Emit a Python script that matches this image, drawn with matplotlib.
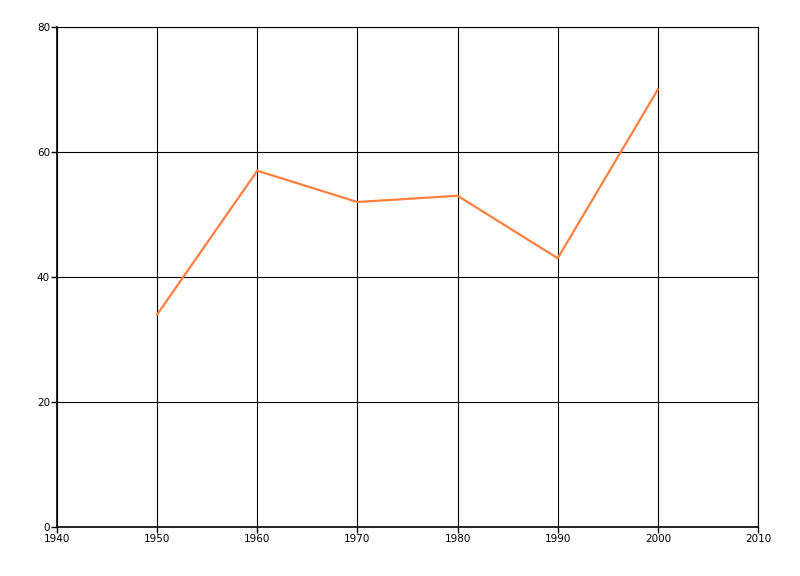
import matplotlib
matplotlib.use("Agg")
import matplotlib.pyplot as plt

years = [1950, 1960, 1970, 1980, 1990, 2000]
values = [34, 57, 52, 53, 43, 70]

x_ticks = [1940, 1950, 1960, 1970, 1980, 1990, 2000, 2010]
y_ticks = [0, 20, 40, 60, 80]

fig = plt.figure(figsize=(8, 5.76), dpi=100)
ax = fig.add_axes([57 / 800, 1 - 527 / 576, (758 - 57) / 800, (527 - 27) / 576])

ax.plot(years, values, color="#ff7f3f", linewidth=1.6)

ax.set_xlim(1940, 2010)
ax.set_ylim(0, 80)
ax.set_xticks(x_ticks)
ax.set_yticks(y_ticks)
ax.grid(True, color="black", linewidth=0.8)
ax.set_axisbelow(True)

# outer frame doubles as the 2010 / 80 gridlines
for side in ["top", "right", "left", "bottom"]:
    ax.spines[side].set_color("black")
    ax.spines[side].set_linewidth(0.8)
for side in ["left", "bottom"]:
    ax.spines[side].set_linewidth(1.2)

ax.tick_params(direction="out", length=4, width=1, labelsize=7.5, pad=1)

fig.savefig("out.png", dpi=100)
